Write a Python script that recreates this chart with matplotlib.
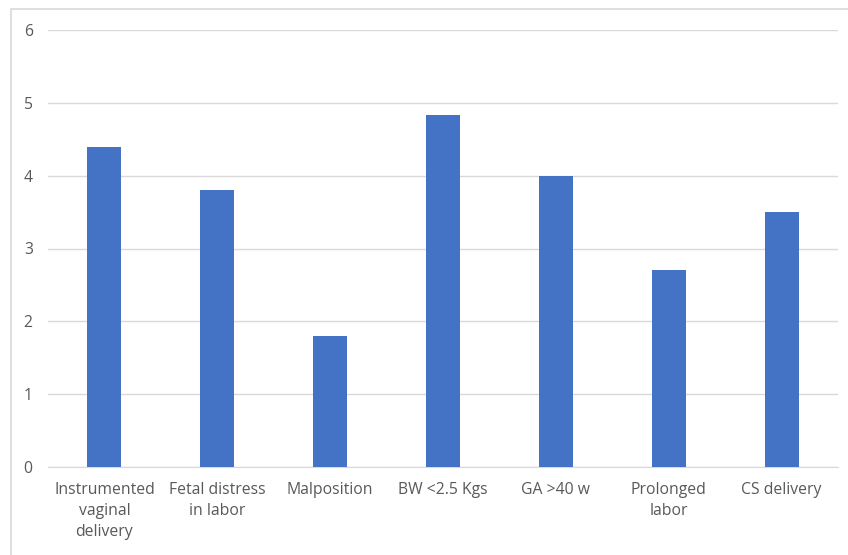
import matplotlib.pyplot as plt
from matplotlib.patches import Rectangle

categories = ["Instrumented\nvaginal\ndelivery", "Fetal distress\nin labor", "Malposition",
              "BW <2.5 Kgs", "GA >40 w", "Prolonged\nlabor", "CS delivery"]
values = [4.4, 3.8, 1.8, 4.83, 4.0, 2.7, 3.5]
yticks = [0, 1, 2, 3, 4, 5, 6]

fig = plt.figure(figsize=(8.48, 5.55), dpi=100)
# chart area border
fig.patches.append(Rectangle((11 / 848, -0.1), 1.2, 1.1 - 9 / 555,
                             transform=fig.transFigure, fill=False,
                             edgecolor="#D9D9D9", linewidth=1.2))

ax = fig.add_axes([48 / 848, 1 - 467 / 555, (838 - 48) / 848, (467 - 30) / 555])
x = range(len(categories))
ax.bar(x, values, width=0.3, color="#4472C4", zorder=3)

ax.set_xlim(-0.5, len(categories) - 0.5)
ax.set_ylim(0, 6)
ax.set_yticks(yticks)
ax.set_xticks(list(x))
ax.set_xticklabels(categories, linespacing=1.4)
ax.yaxis.grid(True, color="#D9D9D9", linewidth=1, zorder=0)
for s in ["top", "right", "left"]:
    ax.spines[s].set_visible(False)
ax.spines["bottom"].set_color("#D9D9D9")
ax.tick_params(axis="both", length=0, labelcolor="#595959", labelsize=11.3)
ax.tick_params(axis="y", pad=11)
ax.tick_params(axis="x", pad=11)
for lbl in ax.get_xticklabels() + ax.get_yticklabels():
    lbl.set_fontfamily("Open Sans")

fig.savefig("out.png", dpi=100)
